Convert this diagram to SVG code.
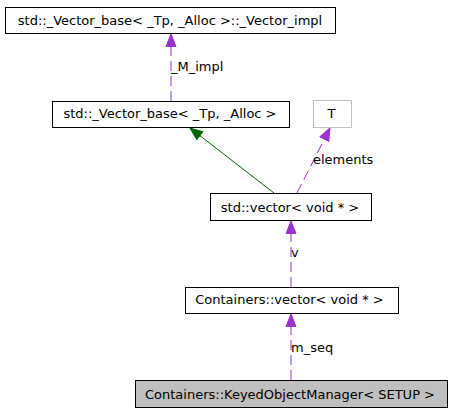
<svg xmlns="http://www.w3.org/2000/svg" width="452" height="413" viewBox="0 0 452 413">
<style>
text{font-family:"DejaVu Sans","Liberation Sans",sans-serif;font-size:13px;fill:#000}
.n{fill:#fff;stroke:#000;stroke-width:1}
.g{fill:#fff;stroke:#bfbfbf;stroke-width:1}
.c{fill:#bfbfbf;stroke:#000;stroke-width:1}
.dp{fill:none;stroke:#9a32cd;stroke-dasharray:10,5}
.sg{fill:none;stroke:#006400}
</style>
<defs>
<marker id="ap" markerWidth="14" markerHeight="12" viewBox="0 0 14 12" refX="13" refY="6" orient="auto" markerUnits="userSpaceOnUse"><path d="M0.5,1 L13,6 L0.5,11 z" fill="#9a32cd" stroke="#9a32cd"/></marker>
<marker id="ag" markerWidth="14" markerHeight="12" viewBox="0 0 14 12" refX="13" refY="6" orient="auto" markerUnits="userSpaceOnUse"><path d="M0.5,1 L13,6 L0.5,11 z" fill="#006400" stroke="#006400"/></marker>
</defs>
<g id="edges">
<path class="dp" d="M171,101 L171,34" marker-end="url(#ap)"/>
<text x="171" y="71">_M_impl</text>
<path class="sg" d="M274,193 L190,128" marker-end="url(#ag)"/>
<path class="dp" d="M297,193 L330,128" marker-end="url(#ap)"/>
<text x="313" y="164">elements</text>
<path class="dp" d="M291,287 L291,221" marker-end="url(#ap)"/>
<text x="291" y="257">v</text>
<path class="dp" d="M291,380 L291,314" marker-end="url(#ap)"/>
<text x="291" y="352">m_seq</text>
</g>
<g id="node_vector_impl">
<rect class="n" x="5.5" y="7.5" width="330" height="26"/>
<text x="170" y="25" text-anchor="middle">std::_Vector_base&lt; _Tp, _Alloc &gt;::_Vector_impl</text>
</g>
<g id="node_vector_base">
<rect class="n" x="52.5" y="101.5" width="237" height="26"/>
<text x="170" y="118" text-anchor="middle">std::_Vector_base&lt; _Tp, _Alloc &gt;</text>
</g>
<g id="node_T">
<rect class="g" x="313.5" y="100.5" width="38" height="27"/>
<text x="331.5" y="118" text-anchor="middle">T</text>
</g>
<g id="node_std_vector">
<rect class="n" x="210.5" y="193.5" width="161" height="27"/>
<text x="290" y="212" text-anchor="middle">std::vector&lt; void * &gt;</text>
</g>
<g id="node_containers_vector">
<rect class="n" x="185.5" y="287.5" width="213" height="26"/>
<text x="289.5" y="304" text-anchor="middle">Containers::vector&lt; void * &gt;</text>
</g>
<g id="node_kom">
<rect class="c" x="135.5" y="380.5" width="312" height="27"/>
<text x="290" y="398.5" text-anchor="middle">Containers::KeyedObjectManager&lt; SETUP &gt;</text>
</g>
</svg>
